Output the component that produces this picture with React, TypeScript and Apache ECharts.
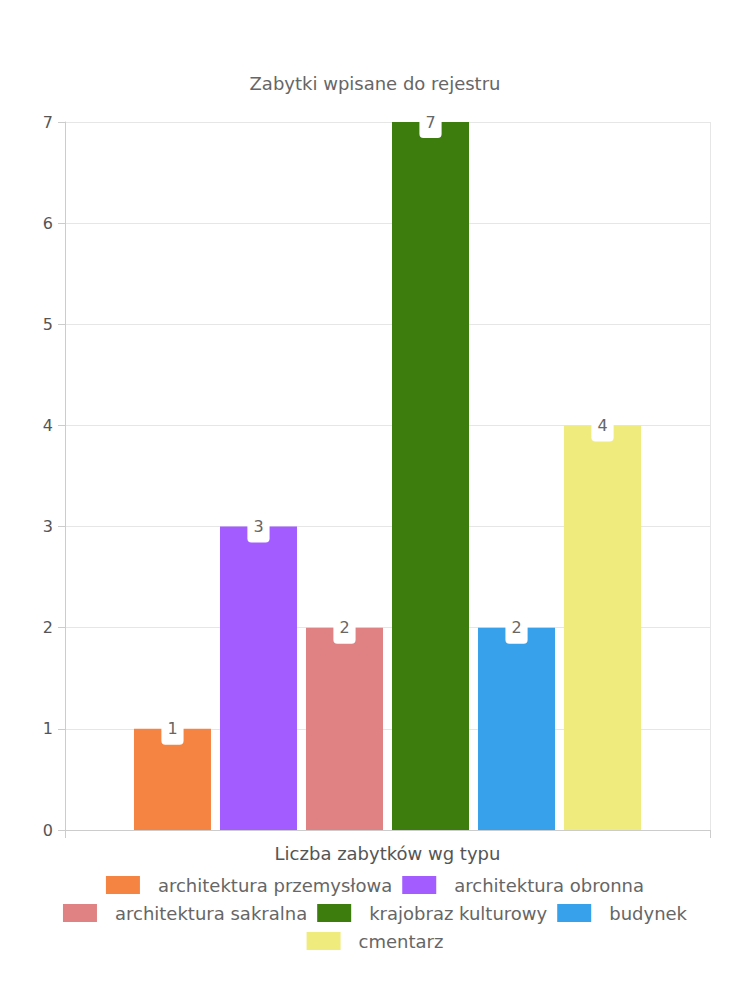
import React, { useEffect, useRef } from "react";
import * as echarts from "echarts";

const title = "Zabytki wpisane do rejestru";
const categoryName = "Liczba zabytków wg typu";
const seriesNames = [
  "architektura przemysłowa",
  "architektura obronna",
  "architektura sakralna",
  "krajobraz kulturowy",
  "budynek",
  "cmentarz",
];
const seriesValues = [1, 3, 2, 7, 2, 4];
const seriesColors = ["#f58442", "#a25cff", "#e08283", "#3d7d0d", "#37a2eb", "#f0eb7d"];
const legendRows = [
  [0, 1],
  [2, 3, 4],
  [5],
];

const FONT = "'DejaVu Sans', sans-serif";

export default function App() {
  const ref = useRef<HTMLDivElement>(null);
  useEffect(() => {
    if (!ref.current) return;
    const chart = echarts.init(ref.current, null, { renderer: "svg" });
    chart.setOption({
      animation: false,
      textStyle: { fontFamily: FONT },
      title: {
        text: title,
        left: "center",
        top: 69,
        textStyle: { fontFamily: FONT, fontSize: 18, fontWeight: "normal", color: "#666" },
      },
      grid: { left: 65, right: 40, top: 122, bottom: 170, containLabel: false },
      legend: legendRows.map((row, r) => ({
        data: row.map((i) => seriesNames[i]),
        top: 871 + r * 28,
        left: "center",
        itemWidth: 34,
        itemHeight: 18,
        itemGap: 10,
        icon: "rect",
        textStyle: { fontFamily: FONT, fontSize: 18, color: "#666", padding: [0, 0, 0, 13] },
      })),
      xAxis: {
        type: "category",
        data: [""],
        name: categoryName,
        nameLocation: "middle",
        nameGap: 14,
        nameTextStyle: { fontFamily: FONT, fontSize: 18, color: "#555" },
        axisLine: { lineStyle: { color: "#ccc" } },
        axisTick: { show: true, length: 8, lineStyle: { color: "#ccc" } },
        axisLabel: { show: false },
        splitLine: { show: true, lineStyle: { color: "#e6e6e6" } },
      },
      yAxis: {
        type: "value",
        min: 0,
        max: 7,
        interval: 1,
        axisLine: { show: true, lineStyle: { color: "#ccc" } },
        axisTick: { show: true, length: 7, lineStyle: { color: "#ccc" } },
        axisLabel: { fontFamily: FONT, fontSize: 16, color: "#555", margin: 12 },
        splitLine: { show: true, lineStyle: { color: "#e6e6e6" } },
      },
      series: seriesNames.map((name, i) => ({
        name,
        type: "bar",
        data: [seriesValues[i]],
        barWidth: 77,
        barGap: "11.7%",
        itemStyle: { color: seriesColors[i] },
        label: {
          show: true,
          position: "top",
          distance: 0,
          offset: [0, 16],
          backgroundColor: "#fff",
          borderRadius: 4,
          padding: [8, 6, 8, 6],
          lineHeight: 16,
          fontFamily: FONT,
          fontSize: 16,
          color: "#666",
        },
      })),
    });
    return () => chart.dispose();
  }, []);
  return (
    <div
      ref={ref}
      style={{ position: "absolute", left: 0, top: 0, width: 750, height: 1000 }}
    />
  );
}
